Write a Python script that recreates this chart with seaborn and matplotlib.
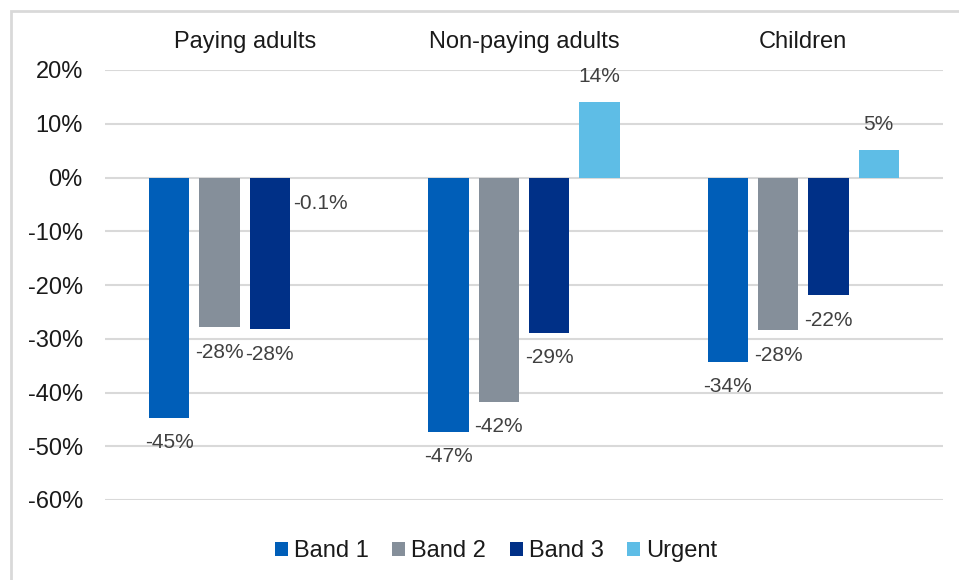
import matplotlib
matplotlib.use("Agg")
import matplotlib.pyplot as plt
import seaborn as sns
import pandas as pd
from matplotlib.patches import Rectangle, Patch
from matplotlib.ticker import PercentFormatter

# ---- data ----
categories = ["Paying adults", "Non-paying adults", "Children"]
series = ["Band 1", "Band 2", "Band 3", "Urgent"]
band1 = [-0.447, -0.473, -0.343]
band2 = [-0.279, -0.417, -0.284]
band3 = [-0.282, -0.289, -0.219]
urgent = [-0.001, 0.141, 0.052]
colors = ["#005EB8", "#858F9A", "#003087", "#5EBDE6"]
yticks = [-0.6, -0.5, -0.4, -0.3, -0.2, -0.1, 0.0, 0.1, 0.2]

values = {"Band 1": band1, "Band 2": band2, "Band 3": band3, "Urgent": urgent}
rows = []
for s in series:
    for c, v in zip(categories, values[s]):
        rows.append({"category": c, "series": s, "value": v})
df = pd.DataFrame(rows)


def fmt(v):
    if abs(v) < 0.01:
        return f"{v*100:.1f}%"
    return f"{round(v*100):.0f}%"


sns.set_theme(style="white")
plt.rcParams["font.family"] = ["Liberation Sans", "DejaVu Sans"]
plt.rcParams["axes.unicode_minus"] = False

W, H = 959, 580
fig = plt.figure(figsize=(W / 100, H / 100), dpi=100)
ax = fig.add_axes([105 / W, 1 - 500 / H, (943 - 105) / W, (500 - 70) / H])

sns.barplot(data=df, x="category", y="value", hue="series", order=categories,
            hue_order=series, palette=colors, saturation=1, width=0.72, gap=0.2,
            linewidth=0, errorbar=None, legend=False, ax=ax, zorder=3)

ax.set_ylim(-0.6, 0.2)
ax.set_yticks(yticks)
ax.yaxis.set_major_formatter(PercentFormatter(1.0, decimals=0))
ax.grid(axis="y", color="#D9D9D9", linewidth=1.5, zorder=0)
ax.set_axisbelow(True)
for sp in ax.spines.values():
    sp.set_visible(False)
ax.set_xlabel("")
ax.set_ylabel("")
ax.xaxis.tick_top()
ax.tick_params(axis="x", length=0, pad=12, labelsize=17, labelcolor="#1a1a1a")
ax.tick_params(axis="y", length=0, pad=16, labelsize=17, labelcolor="#1a1a1a")

# data labels
for cont, s in zip(ax.containers, series):
    for patch, v in zip(cont.patches, values[s]):
        xc = patch.get_x() + patch.get_width() / 2
        off = 18 if v > 0 else -18
        ax.annotate(fmt(v), (xc, v), xytext=(0, off), textcoords="offset points",
                    ha="center", va="center", fontsize=15, color="#404040",
                    zorder=5)

# legend
handles = [Patch(facecolor=c, edgecolor="none") for c in colors]
fig.legend(handles, series, loc="center", bbox_to_anchor=(496 / W, 1 - 551 / H),
           ncol=4, frameon=False, fontsize=17, handlelength=0.55,
           handleheight=0.55, handletextpad=0.25, columnspacing=1.0,
           labelcolor="#1a1a1a")

# chart frame (clipped at right and bottom)
fig.patches.append(Rectangle((11 / W, -0.1), 2, 1.1 - 11 / H, transform=fig.transFigure,
                             fill=False, edgecolor="#D9D9D9", linewidth=2))

fig.savefig("out.png", dpi=100)
